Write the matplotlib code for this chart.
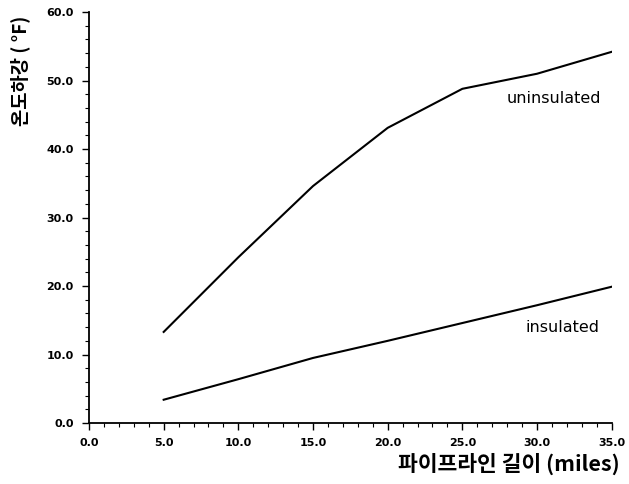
import matplotlib
matplotlib.use("Agg")
import matplotlib.pyplot as plt
from matplotlib.ticker import MultipleLocator, FormatStrFormatter

# pipeline length (miles) vs temperature drop (F)
miles = [5, 10, 15, 20, 25, 30, 35]
uninsulated = [13.3, 24.2, 34.6, 43.1, 48.8, 51.0, 54.2]
insulated = [3.4, 6.4, 9.5, 12.0, 14.6, 17.2, 19.9]

plt.rcParams['font.family'] = ['Noto Sans CJK KR', 'DejaVu Sans']

fig = plt.figure(figsize=(6.29, 4.84), dpi=100)
ax = fig.add_axes([0.1415, 0.126, 0.831, 0.849])

ax.plot(miles, uninsulated, color='black', lw=1.5)
ax.plot(miles, insulated, color='black', lw=1.5)

ax.text(31.1, 47.4, 'uninsulated', fontsize=11.5, ha='center', va='center',
        family='DejaVu Sans')
ax.text(31.7, 13.9, 'insulated', fontsize=11.5, ha='center', va='center',
        family='DejaVu Sans')

ax.set_xlim(0, 35)
ax.set_ylim(0, 60)
ax.xaxis.set_major_locator(MultipleLocator(5))
ax.xaxis.set_minor_locator(MultipleLocator(1))
ax.yaxis.set_major_locator(MultipleLocator(10))
ax.yaxis.set_minor_locator(MultipleLocator(2))
ax.xaxis.set_major_formatter(FormatStrFormatter('%.1f'))
ax.yaxis.set_major_formatter(FormatStrFormatter('%.1f'))
ax.tick_params(which='major', length=5, width=1, labelsize=8, pad=6)
ax.tick_params(which='minor', length=3, width=0.8)
for lbl in ax.get_xticklabels() + ax.get_yticklabels():
    lbl.set_family('DejaVu Sans')
    lbl.set_fontweight('bold')

for s in ['top', 'right']:
    ax.spines[s].set_visible(False)
for s in ['left', 'bottom']:
    ax.spines[s].set_linewidth(1.3)

xl = ax.set_xlabel('파이프라인 길이 (miles)', fontsize=15.5, fontweight='bold')
ax.xaxis.set_label_coords(1.015, -0.073)
xl.set_ha('right')
ax.set_ylabel('온도하강 ( °F)', fontsize=13.5, fontweight='bold')
ax.yaxis.set_label_coords(-0.113, 0.857)

fig.savefig('out.png', dpi=100)
